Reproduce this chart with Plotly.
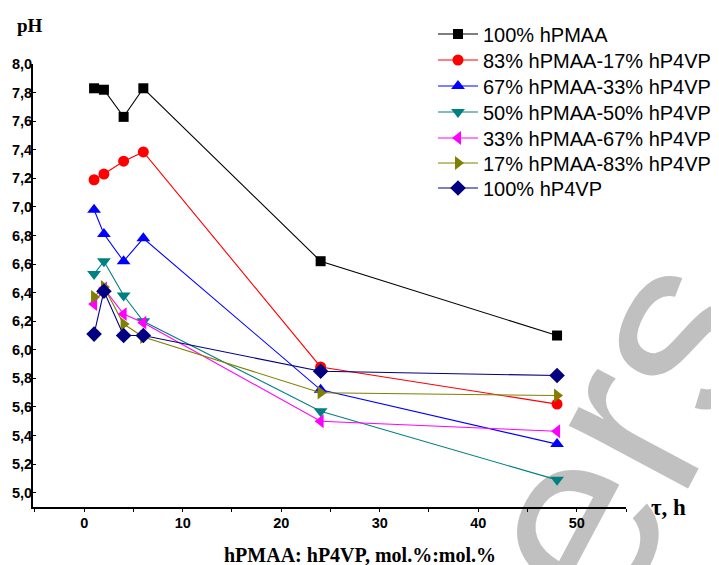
import plotly.graph_objects as go

time_h = [1, 2, 4, 6, 24, 48]
names = ["100% hPMAA", "83% hPMAA-17% hP4VP", "67% hPMAA-33% hP4VP",
         "50% hPMAA-50% hP4VP", "33% hPMAA-67% hP4VP", "17% hPMAA-83% hP4VP",
         "100% hP4VP"]
ph_100_pmaa = [7.83, 7.82, 7.63, 7.83, 6.62, 6.10]
ph_83_17 = [7.19, 7.23, 7.32, 7.385, 5.88, 5.62]
ph_67_33 = [6.98, 6.81, 6.62, 6.78, 5.72, 5.34]
ph_50_50 = [6.53, 6.62, 6.38, 6.20, 5.57, 5.09]
ph_33_67 = [6.32, 6.43, 6.25, 6.19, 5.50, 5.43]
ph_17_83 = [6.37, 6.44, 6.18, 6.09, 5.70, 5.68]
ph_100_p4vp = [6.11, 6.41, 6.10, 6.10, 5.85, 5.82]
series = [ph_100_pmaa, ph_83_17, ph_67_33, ph_50_50, ph_33_67, ph_17_83, ph_100_p4vp]

colors = ["#000000", "#ff0000", "#0000ff", "#008080", "#ff00ff", "#808000", "#000080"]
symbols = ["square", "circle", "triangle-up", "triangle-down", "triangle-left",
           "triangle-right", "diamond"]
sizes = [10, 11, 12, 12, 12, 12, 12]

W, H = 719, 565
OFF = 8  # page body offset
# target plot area in screen pixels
X0, X1, Y0, Y1 = 33, 626, 64, 507
L, R, T, B = X0 - OFF, W - (X1 - OFF), Y0 - OFF, H - (Y1 - OFF)
pw, ph = W - L - R, H - T - B


def px2paper(xp, yp):
    xp -= OFF
    yp -= OFF
    return (xp - L) / pw, (H - B - yp) / ph


fig = go.Figure()
legend_rows = [34, 60, 86, 112, 138, 163, 188]
legends = {}
for i, (n, ys, c, s, sz) in enumerate(zip(names, series, colors, symbols, sizes)):
    key = "legend" if i == 0 else f"legend{i + 1}"
    fig.add_trace(go.Scatter(x=time_h, y=ys, name=n, mode="lines+markers",
                             legend=key,
                             line=dict(color=c, width=1.1),
                             marker=dict(symbol=s, color=c, size=sz, line=dict(width=0))))
    lx, ly = px2paper(433, legend_rows[i])
    legends[key] = dict(x=lx, y=ly, xanchor="left", yanchor="middle",
                        font=dict(family="Liberation Sans, Arial", size=20, color="black"),
                        bgcolor="rgba(0,0,0,0)", itemwidth=40, borderwidth=0)

ann_font_serif = "Liberation Serif, Times New Roman"
annotations = []
for txt, (xp, yp), size in [("pH", (30, 26), 19), ("τ, h", (668, 507), 23),
                            ("hPMAA: hP4VP, mol.%:mol.%", (360, 555), 20)]:
    ax, ay = px2paper(xp, yp)
    annotations.append(dict(text=txt, x=ax, y=ay, xref="paper", yref="paper",
                            xanchor="center", yanchor="middle", showarrow=False,
                            font=dict(family=ann_font_serif, size=size, color="black", weight="bold")))

# grey watermark, drawn below everything
wcx, wcy = 597, 420
wx0, wy0 = px2paper(wcx - 5, wcy - 5)
wx1, wy1 = px2paper(wcx + 5, wcy + 5)
shapes = [dict(type="rect", xref="paper", yref="paper", x0=wx0, x1=wx1, y0=wy1, y1=wy0,
               layer="below", line=dict(width=0), fillcolor="rgba(0,0,0,0)",
               label=dict(text="ers", textangle=-62, textposition="middle center",
                          font=dict(family="Liberation Sans, Arial", size=255, color="#c0c0c0")))]

fig.update_layout(
    width=W, height=H,
    margin=dict(l=L, r=R, t=T, b=B, autoexpand=False),
    paper_bgcolor="white", plot_bgcolor="rgba(0,0,0,0)",
    separators=",.",
    showlegend=True,
    xaxis=dict(range=[-5.2, 55], tickvals=[0, 10, 20, 30, 40, 50],
               showgrid=False, zeroline=False,
               showline=True, linecolor="black", linewidth=2,
               ticks="outside", ticklen=3, tickcolor="black",
               minor=dict(dtick=5, ticks="outside", ticklen=3, tickcolor="black"),
               ticklabelstandoff=-1,
               tickfont=dict(family="Liberation Sans, Arial", size=14.5, color="black", weight="bold")),
    yaxis=dict(range=[4.9, 8.0], dtick=0.2, tick0=5.0, tickformat=".1f",
               showgrid=False, zeroline=False,
               showline=True, linecolor="black", linewidth=2,
               ticks="inside", ticklen=3, tickcolor="black",
               ticklabelstandoff=-4,
               tickfont=dict(family="Liberation Sans, Arial", size=14.5, color="black", weight="bold")),
    annotations=annotations,
    shapes=shapes,
    **legends,
)

fig.write_html("out.html")
